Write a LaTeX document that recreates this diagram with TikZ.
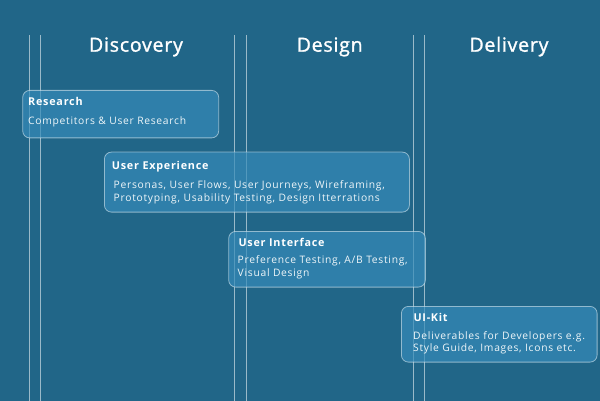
\documentclass[tikz,border=0pt]{standalone}
\usepackage{fontspec}
\setmainfont{Open Sans}[LetterSpace=7]
\newfontfamily\headfont{Open Sans}[LetterSpace=4,FakeBold=1.4]
\definecolor{bg}{RGB}{33,102,136}
\definecolor{boxfill}{RGB}{53,139,185}
\begin{document}
\begin{tikzpicture}[x=1pt,y=-1pt,
  guide/.style={draw=white,opacity=0.55,line width=0.8pt},
  phase/.style={draw=white!80!boxfill,fill=boxfill,fill opacity=0.7,draw opacity=0.6,rounded corners=7pt,line width=0.8pt,anchor=north west,inner sep=0pt},
  head/.style={text=white,font=\headfont\fontsize{19.5}{22}\selectfont,anchor=base,inner sep=0pt},
  ttl/.style={text=white,font=\bfseries\fontsize{10.8}{12}\selectfont,anchor=base west,inner sep=0pt},
  body/.style={text=white!92!boxfill,font=\fontsize{10.3}{13}\selectfont,anchor=base west,inner sep=0pt},
]
\fill[bg] (0,0) rectangle (600,401);
\useasboundingbox (0,0) rectangle (600,401);
% guide coordinates
\foreach \n/\x in {a/29.3,b/40.3,c/234.5,d/246.3,e/413.3,f/424.3}{
  \coordinate (\n top) at (\x,35);
  \coordinate (\n bot) at (\x,401);
}
\foreach \n in {a,b,c,d,e,f}{ \draw[guide] (\n top) -- (\n bot); }
% headers
\node[head] (hdisc) at (136,51.7) {Discovery};
\node[head] (hdes) at (329.7,51.7) {Design};
\node[head] (hdel) at (509,51.7) {Delivery};
% boxes
\node[phase,minimum width=196pt,minimum height=47.5pt] (bres) at (22.3,90) {};
\node[phase,minimum width=305pt,minimum height=60pt] (bux) at (104,151.7) {};
\node[phase,minimum width=196.7pt,minimum height=55.7pt] (bui) at (228.3,231) {};
\node[phase,minimum width=195.7pt,minimum height=55.7pt] (bkit) at (401,306) {};
% texts
\node[ttl] (tres) at (28,105.3) {Research};
\node[body] (dres) at (28,124.7) {Competitors \& User Research};
\node[ttl] (tux) at (111.7,170) {User Experience};
\node[body] (dux1) at (113.5,188.3) {Personas, User Flows, User Journeys, Wireframing,};
\node[body] (dux2) at (113.5,201) {Prototyping, Usability Testing, Design Itterrations};
\node[ttl] (tui) at (238.3,246) {User Interface};
\node[body] (dui1) at (237.5,263.7) {Preference Testing, A/B Testing,};
\node[body] (dui2) at (237.5,276) {Visual Design};
\node[ttl] (tkit) at (413.3,321.7) {UI-Kit};
\node[body] (dkit1) at (413,339.3) {Deliverables for Developers e.g.};
\node[body] (dkit2) at (413,351.7) {Style Guide, Images, Icons etc.};
\end{tikzpicture}
\end{document}
